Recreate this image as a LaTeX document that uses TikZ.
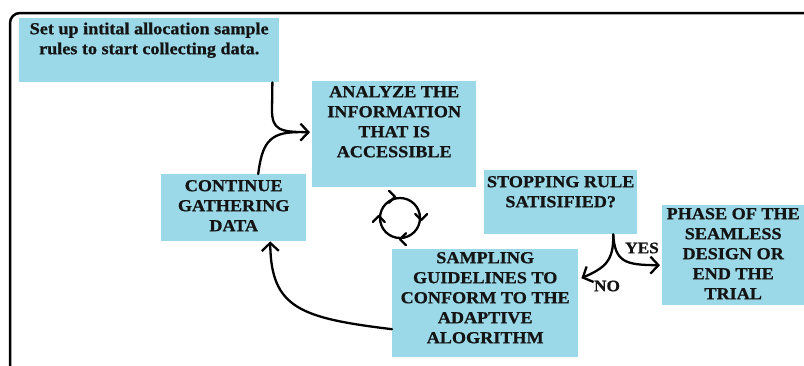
\documentclass[tikz,border=0pt]{standalone}
\usepackage{fontspec}
\setmainfont{Liberation Serif}[FakeStretch=1.08,FakeBold=0.8]
\usetikzlibrary{arrows.meta}
\definecolor{boxblue}{RGB}{155,217,233}
\definecolor{inkc}{RGB}{20,20,20}
\newcommand{\bxtext}[4]{\begin{minipage}[t][#2pt][t]{#1pt}\centering\vspace*{#3pt}\strut #4\end{minipage}}
\tikzset{
  bx/.style={fill=boxblue, text=inkc, inner sep=0pt, anchor=north west, font=\fontsize{16.8}{20}\selectfont\bfseries},
  ln/.style={line width=2.3pt, line cap=round},
  arr/.style={ln, -{Straight Barb[length=8pt,width=17pt,line width=2.3pt]}},
  chev/.style={line width=2.3pt, line cap=round, line join=round},
  lbl/.style={inner sep=0pt, text=inkc, font=\fontsize{16}{18}\selectfont\bfseries}
}
\begin{document}
\begin{tikzpicture}[x=1pt,y=-1pt]
\useasboundingbox (0,0) rectangle (804,365);
\clip (0,0) rectangle (804,365);
\draw[line width=2.5pt, rounded corners=10pt] (10,13) rectangle (840,400);

\node[bx] (b1) at (19,18) {\bxtext{260}{64}{2}{Set up intital allocation sample\\rules to start collecting data.}};
\node[bx] (b2) at (312,81) {\bxtext{164}{106}{2}{ANALYZE THE\\INFORMATION\\THAT IS\\ACCESSIBLE}};
\node[bx] (b3) at (161,174) {\bxtext{145}{67}{3}{CONTINUE\\GATHERING\\DATA}};
\node[bx] (b4) at (484,170) {\bxtext{153}{64}{3}{STOPPING RULE\\SATISIFIED?}};
\node[bx] (b5) at (392,249) {\bxtext{186}{108}{0}{SAMPLING\\GUIDELINES TO\\CONFORM TO THE\\ADAPTIVE\\ALOGRITHM}};
\node[bx] (b6) at (662,205) {\bxtext{142}{100}{0}{PHASE OF THE\\SEAMLESS\\DESIGN OR\\END THE\\TRIAL}};

% connectors
\draw[arr] ([xshift=-7pt]b1.south east) -- (272,110) .. controls (272,130) and (280,132) .. ([xshift=-2pt,yshift=2pt]b2.west);
\draw[ln] ([xshift=24.5pt]b3.north) .. controls (262,145) and (268,132) .. ([xshift=-14pt,yshift=2pt]b2.west);
\draw[arr] ([yshift=-26pt]b5.west) .. controls (300,318) and (271,308) .. ([xshift=36.5pt]b3.south);
\draw[arr] ([xshift=52.5pt]b4.south) .. controls (614,262) and (604,268) .. ([xshift=3pt,yshift=25pt]b5.east);
\draw[arr] ([xshift=52.5pt]b4.south) .. controls (615,262) and (625,265) .. ([xshift=-2pt,yshift=-10pt]b6.west);
\node[lbl] (yes) at (642,248) {YES};
\node[lbl] (no) at (607,286) {NO};

% cycle symbol
\node[circle, draw, line width=2.3pt, minimum size=40pt, inner sep=0pt] (cyc) at (400,218) {};
\draw[chev] ([xshift=-11pt,yshift=6pt]cyc.north) -- ([xshift=-5pt]cyc.north) -- ([xshift=-11pt,yshift=-6pt]cyc.north);
\draw[chev] ([xshift=-6pt,yshift=4pt]cyc.east) -- ([yshift=-2pt]cyc.east) -- ([xshift=6pt,yshift=4pt]cyc.east);
\draw[chev] ([xshift=6pt,yshift=6pt]cyc.south) -- (cyc.south) -- ([xshift=6pt,yshift=-6pt]cyc.south);
\draw[chev] ([xshift=-6pt,yshift=-4pt]cyc.west) -- ([yshift=2pt]cyc.west) -- ([xshift=6pt,yshift=-4pt]cyc.west);
\end{tikzpicture}
\end{document}
